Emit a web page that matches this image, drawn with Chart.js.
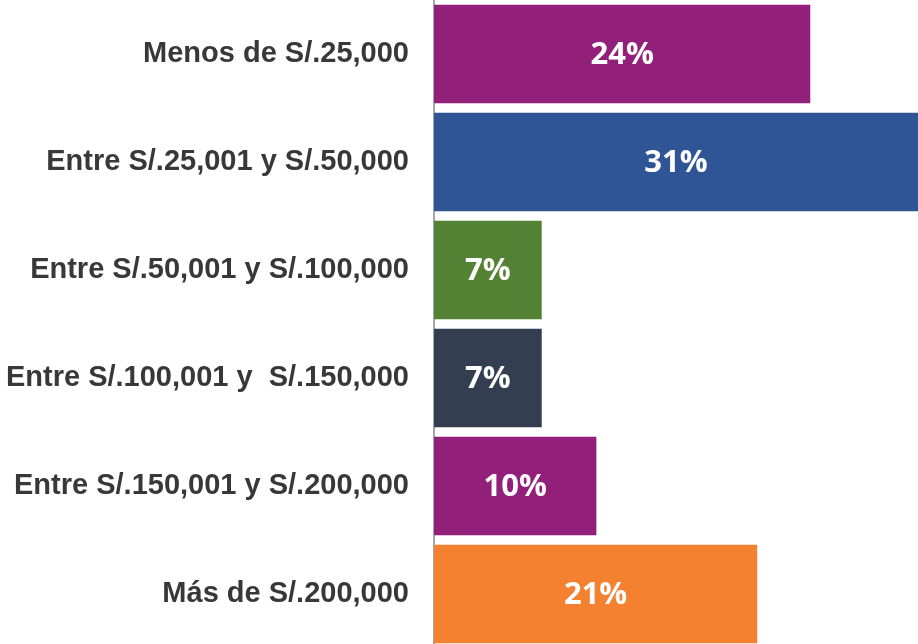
<!DOCTYPE html>
<html>
<head>
<meta charset="utf-8">
<script src="https://cdn.jsdelivr.net/npm/chart.js@4.4.1/dist/chart.umd.min.js"></script>
<style>
  html, body { margin: 0; padding: 0; background: #fff; overflow: hidden; }
  #wrap { width: 918px; height: 648px; position: relative; }
</style>
</head>
<body>
<div id="wrap"><canvas id="incomeChart"></canvas></div>
<script>
// -------------------- DATA --------------------
const ranges = [
    'Menos de S/.25,000',
    'Entre S/.25,001 y S/.50,000',
    'Entre S/.50,001 y S/.100,000',
    'Entre S/.100,001 y  S/.150,000',
    'Entre S/.150,001 y S/.200,000',
    'Más de S/.200,000'
];

// Percent of respondents (bar lengths)
const shares = [24.1, 31, 6.9, 6.9, 10.4, 20.7]; // %

const barColors = ['#92207A', '#2F5597', '#548235', '#333F50', '#92207A', '#F4812F'];


// -------------------- VALUE LABELS IN THE BARS --------------------
const barValueLabels = {
    id: 'barValueLabels',
    afterDatasetsDraw(chart) {
        const ctx = chart.ctx;
        const meta = chart.getDatasetMeta(0);
        ctx.save();
        ctx.fillStyle = '#ffffff';
        ctx.font = 'bold 31px "Open Sans", sans-serif';
        ctx.textAlign = 'center';
        ctx.textBaseline = 'middle';
        meta.data.forEach((bar, i) => {
            const cx = (bar.x + bar.base) / 2;
            ctx.fillText(Math.round(shares[i]) + '%', cx, bar.y + 1);
        });
        ctx.restore();
    }
};


// -------------------- CHART --------------------
const ctx1 = document.getElementById('incomeChart').getContext('2d');
new Chart(ctx1, {
    type: 'bar',
    data: {
        labels: ranges,
        datasets: [{
            data: shares,
            backgroundColor: barColors,
            barPercentage: 0.913,
            categoryPercentage: 1
        }]
    },
    options: {
        indexAxis: 'y',
        responsive: true,
        maintainAspectRatio: false,
        animation: false,
        layout: { padding: 0 },
        plugins: {
            legend: { display: false },
            tooltip: { enabled: false }
        },
        scales: {
            x: {
                display: false,
                min: 0,
                max: 31
            },
            y: {
                z: 1, // axis line on top of the bars
                grid: { display: false, drawTicks: false },
                border: { display: true, color: '#A6A6A6', width: 2 },
                ticks: {
                    color: '#383838',
                    padding: 25,
                    font: { family: '"Liberation Sans", Arial, sans-serif', size: 29, weight: 'bold' }
                },
                // fixed label column, and no extra room above/below the bars
                afterFit: (scale) => {
                    scale.width = 434;
                    scale.paddingTop = 0;
                    scale.paddingBottom = 0;
                }
            }
        }
    },
    plugins: [barValueLabels]
});
</script>
</body>
</html>
